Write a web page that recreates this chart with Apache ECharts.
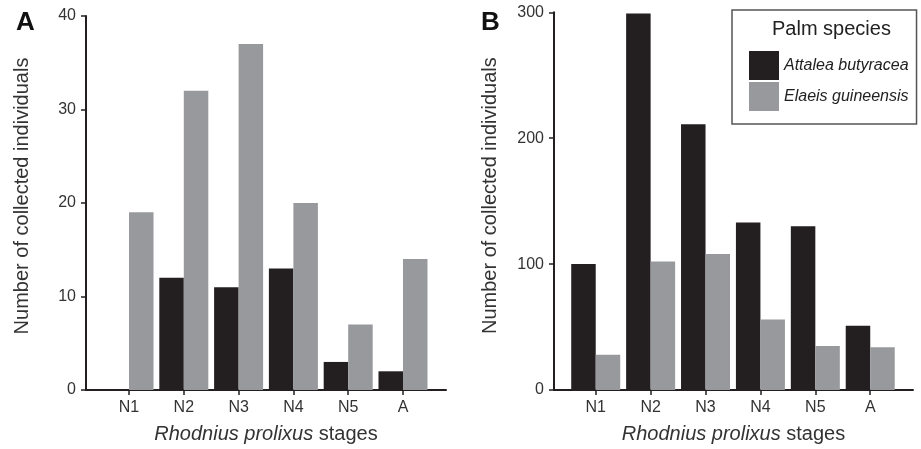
<!DOCTYPE html>
<html>
<head>
<meta charset="utf-8">
<script src="https://cdn.jsdelivr.net/npm/echarts@6/dist/echarts.min.js"></script>
<style>
html,body{margin:0;padding:0;background:#fff;}
#chart{width:921px;height:449px;}
</style>
</head>
<body>
<div id="chart"></div>
<script>
// ---- data ----
var stages = ['N1', 'N2', 'N3', 'N4', 'N5', 'A'];
var speciesNames = ['Attalea butyracea', 'Elaeis guineensis'];
var panelA_attalea = [0, 12, 11, 13, 3, 2];
var panelA_elaeis = [19, 32, 37, 20, 7, 14];
var panelB_attalea = [100, 299, 211, 133, 130, 51];
var panelB_elaeis = [28, 102, 108, 56, 35, 34];
var panelA_yTicks = [0, 10, 20, 30, 40];
var panelB_yTicks = [0, 100, 200, 300];

var FONT = 'Liberation Sans, Arial, sans-serif';
var BLACK = '#231f20';
var GREY = '#98999c';
var AXIS = '#231f20';
var TEXT = '#333333';

var stagePos = stages.map(function (s, i) { return i + 1; });
function pairs(vals) { return vals.map(function (v, i) { return [i + 1, v]; }); }

function xAxisDef(gridIndex, min, max) {
  return {
    type: 'value', gridIndex: gridIndex, min: min, max: max,
    name: '{i|Rhodnius prolixus} stages',
    nameLocation: 'middle', nameGap: 34,
    nameTextStyle: {
      fontFamily: FONT, fontSize: 20, color: TEXT,
      rich: { i: { fontFamily: FONT, fontSize: 20, fontStyle: 'italic', color: TEXT } }
    },
    splitLine: { show: false },
    axisLine: { show: true, onZero: false, lineStyle: { color: AXIS, width: 2 } },
    axisTick: { show: true, customValues: stagePos, length: 5, lineStyle: { color: AXIS, width: 1.5 } },
    axisLabel: {
      customValues: stagePos, margin: 10, fontFamily: FONT, fontSize: 16, color: TEXT,
      formatter: function (v) { return stages[Math.round(v) - 1] || ''; }
    }
  };
}
function yAxisDef(gridIndex, ticks, shiftUp) {
  return {
    type: 'value', gridIndex: gridIndex, min: ticks[0], max: ticks[ticks.length - 1],
    interval: ticks[1] - ticks[0],
    name: 'Number of collected individuals',
    nameLocation: 'middle', nameGap: 54,
    nameTextStyle: { fontFamily: FONT, fontSize: 20, color: TEXT, padding: [0, 0, 0, shiftUp * 2] },
    splitLine: { show: false },
    axisLine: { show: true, lineStyle: { color: AXIS, width: 2 } },
    axisTick: { show: true, length: 5, lineStyle: { color: AXIS, width: 1.5 } },
    axisLabel: { margin: 10, fontFamily: FONT, fontSize: 16, color: TEXT }
  };
}
function barSeries(name, idx, vals, color) {
  return {
    type: 'bar', name: name, xAxisIndex: idx, yAxisIndex: idx,
    data: pairs(vals), barWidth: 24.5, barGap: '0%',
    itemStyle: { color: color }, silent: true
  };
}

var chart = echarts.init(document.getElementById('chart'), null, { renderer: 'canvas' });
chart.setOption({
  animation: false,
  backgroundColor: '#ffffff',
  title: [
    { text: 'A', left: 16, top: 10, padding: 0, textStyle: { fontFamily: FONT, fontSize: 26, fontWeight: 'bold', color: '#111' } },
    { text: 'B', left: 481, top: 10, padding: 0, textStyle: { fontFamily: FONT, fontSize: 26, fontWeight: 'bold', color: '#111' } },
    { text: 'Palm species', left: 772, top: 19, padding: 0, textStyle: { fontFamily: FONT, fontSize: 20, fontWeight: 'normal', color: '#222' } }
  ],
  legend: {
    data: speciesNames, orient: 'vertical', left: 732, top: 10,
    padding: [41, 8, 13, 17], itemWidth: 30, itemHeight: 29, itemGap: 2,
    icon: 'rect', borderColor: '#555', borderWidth: 1.5,
    selectedMode: false,
    textStyle: { fontFamily: FONT, fontSize: 16, fontStyle: 'italic', color: '#222' }
  },
  grid: [
    { left: 86, top: 16, width: 360, height: 374 },
    { left: 554, top: 12.3, width: 359, height: 378.4 }
  ],
  xAxis: [xAxisDef(0, 0.215, 6.785), xAxisDef(1, 0.24, 6.779)],
  yAxis: [yAxisDef(0, panelA_yTicks, 7), yAxisDef(1, panelB_yTicks, 5.5)],
  series: [
    barSeries(speciesNames[0], 0, panelA_attalea, BLACK),
    barSeries(speciesNames[1], 0, panelA_elaeis, GREY),
    barSeries(speciesNames[0], 1, panelB_attalea, BLACK),
    barSeries(speciesNames[1], 1, panelB_elaeis, GREY)
  ]
});
</script>
</body>
</html>
